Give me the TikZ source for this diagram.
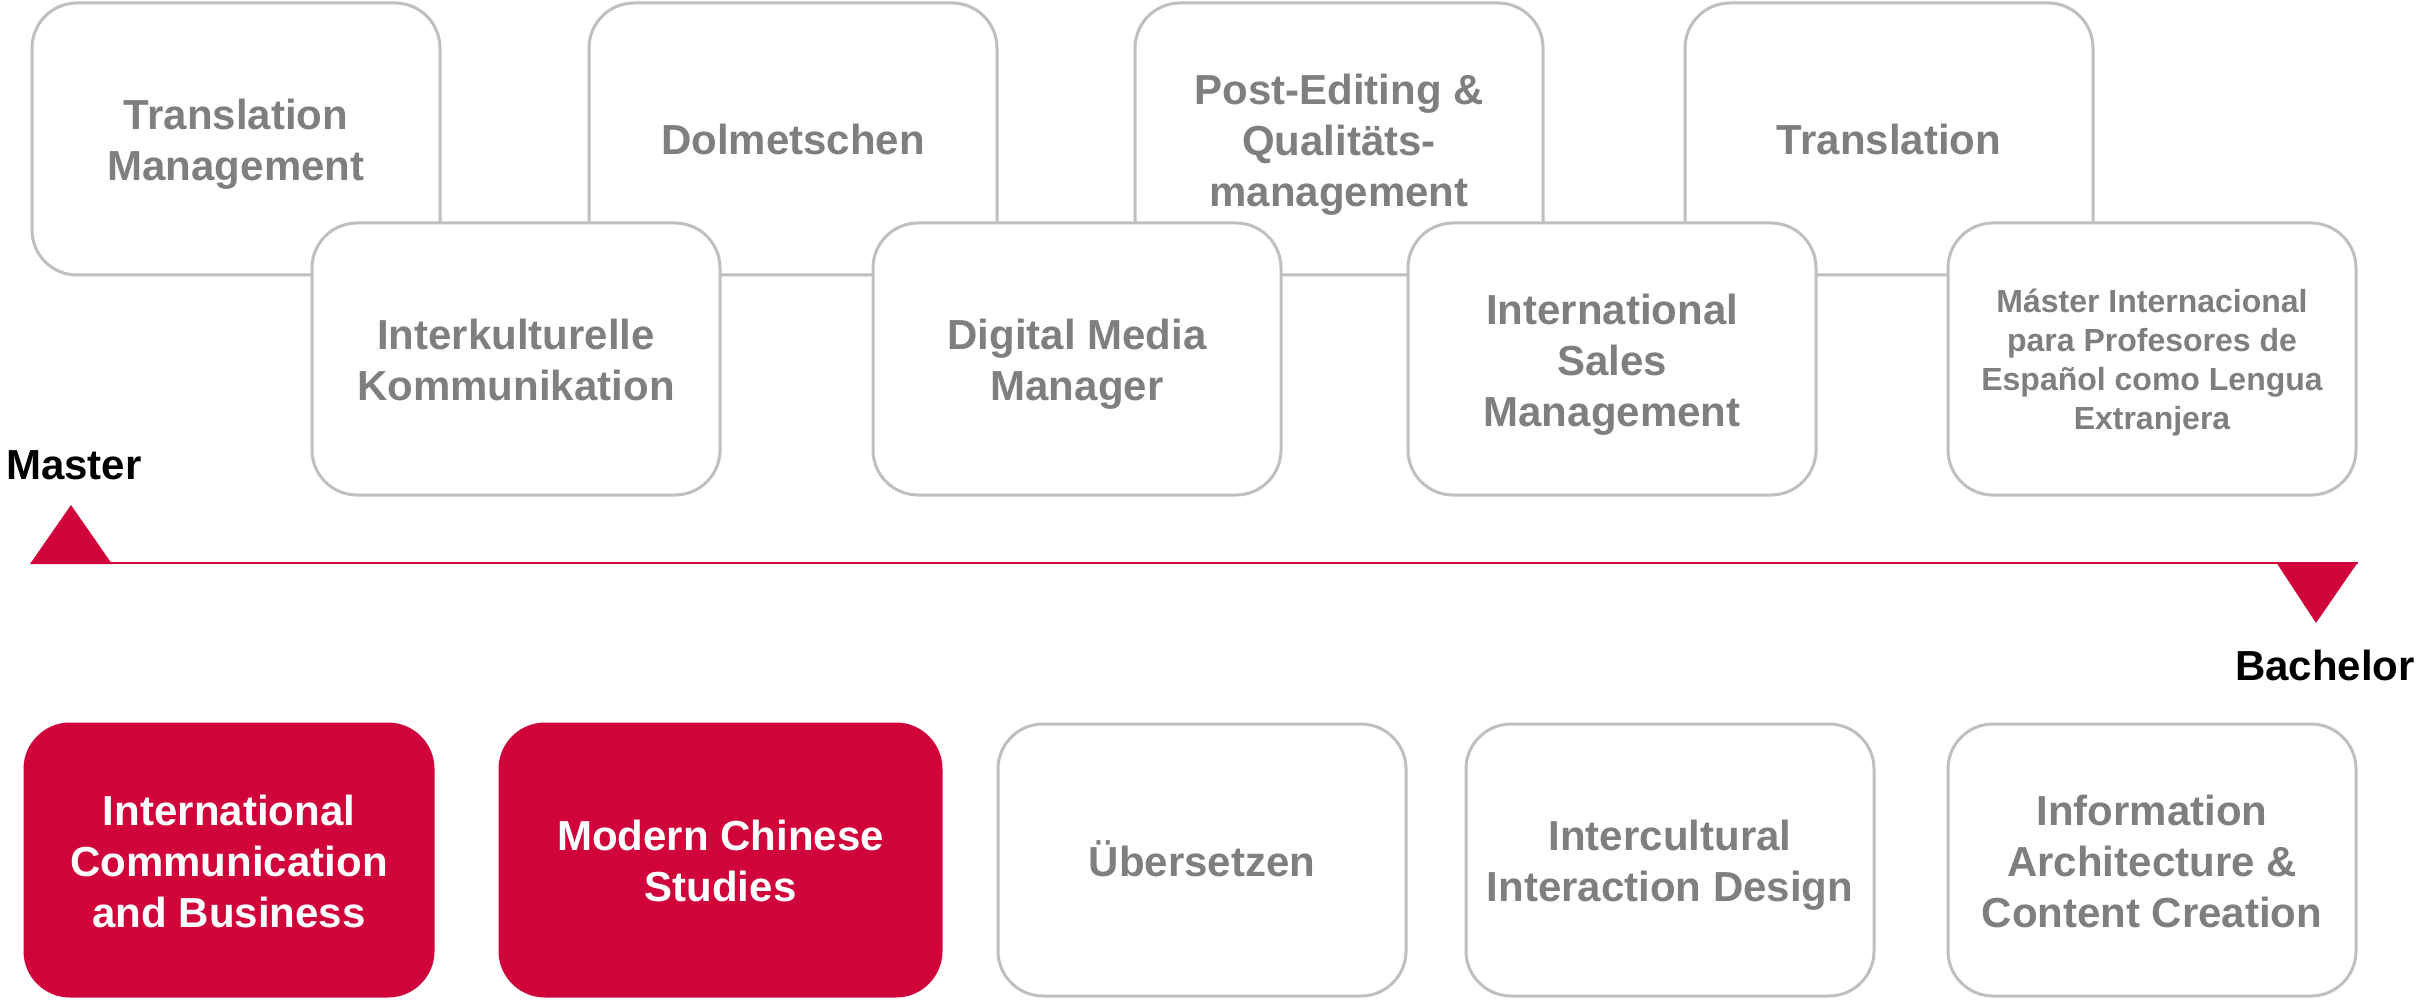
\documentclass[tikz,border=0pt]{standalone}
\usepackage{fontspec}
\setmainfont{Liberation Sans}
\definecolor{hsred}{RGB}{208,4,58}
\definecolor{txtgray}{RGB}{127,127,127}
\definecolor{boxgray}{RGB}{191,191,191}
\newcommand{\bxstrut}{\rule[-0.226em]{0pt}{1.214em}}
\begin{document}
\begin{tikzpicture}[x=1pt,y=-1pt,
  box/.style={draw=boxgray, line width=3pt, fill=white, rounded corners=45pt,
    minimum width=408pt, minimum height=272pt, inner sep=0pt, align=center,
    text=txtgray, font=\bfseries\fontsize{42}{51}\selectfont,
    execute at end node=\bxstrut},
  redbox/.style={box, draw=hsred, fill=hsred, text=white},
  smalltext/.style={font=\bfseries\fontsize{32}{39}\selectfont},
  axlabel/.style={font=\bfseries\fontsize{42}{50}\selectfont, text=black, inner sep=0pt}]
\useasboundingbox (0,0) rectangle (2418,1000);
% top row (behind)
\node[box] (tm)  at (236,139)  {\bxstrut Translation\\Management};
\node[box] (dol) at (793,139)  {\bxstrut Dolmetschen};
\node[box] (pe)  at (1339,139) {\bxstrut Post-Editing \&\\Qualitäts-\\management};
\node[box] (tr)  at (1889,139) {\bxstrut Translation};
% second row (front)
\node[box] (ik)  at (516,359)  {\bxstrut Interkulturelle\\Kommunikation};
\node[box] (dmm) at (1077,359) {\bxstrut Digital Media\\Manager};
\node[box] (ism) at (1612,359) {\bxstrut International\\Sales\\Management};
\node[box, smalltext] (mi) at (2152,359) {\bxstrut Máster Internacional\\para Profesores de\\Español como Lengua\\Extranjera};
% axis
\coordinate (axL) at (31,563);
\coordinate (axR) at (2358,563);
\draw[hsred, line width=1.6pt] (axL) -- (axR);
\fill[hsred] (30,564) -- (71,505) -- (112,564) -- cycle;
\fill[hsred] (2276,562) -- (2358,562) -- (2316,623) -- cycle;
\node[axlabel, anchor=west] (master) at (6,465) {Master};
\node[axlabel, anchor=east] (bachelor) at (2415,665) {Bachelor};
% bottom row
\node[redbox] (icb) at (229,860) {\bxstrut International\\Communication\\and Business};
\node[redbox, minimum width=441pt] (mcs) at (720.5,860) {\bxstrut Modern Chinese\\Studies};
\node[box] (ueb) at (1202,860) {\bxstrut Übersetzen};
\node[box] (iid) at (1670,860) {\bxstrut Intercultural\\Interaction Design};
\node[box] (ia)  at (2152,860) {\bxstrut Information\\Architecture \&\\Content Creation};
\end{tikzpicture}
\end{document}
